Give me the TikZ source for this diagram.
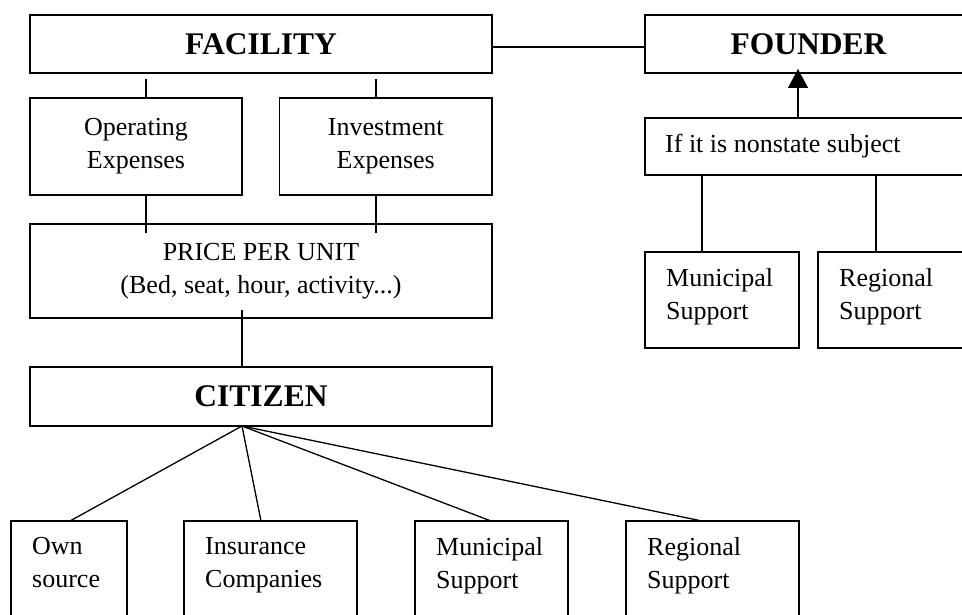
\documentclass[tikz,border=0pt]{standalone}
\usepackage{fontspec}
\setmainfont{Liberation Serif}
\usetikzlibrary{arrows.meta}
\begin{document}
\begin{tikzpicture}[x=1pt,y=-1pt,
  boxbase/.style={draw, rectangle, inner sep=0pt, outer sep=0pt, anchor=north west, align=center},
  thickbox/.style={boxbase, line width=2pt, font=\fontsize{31.5}{36}\selectfont\bfseries},
  thinbox/.style={boxbase, line width=1.3pt, font=\fontsize{26}{33}\selectfont},
  boxtext/.style={inner sep=0pt, anchor=north west, align=left, font=\fontsize{26}{33}\selectfont},
  conn/.style={line width=1.3pt},
  thickconn/.style={line width=2.5pt}]
\clip (0,0) rectangle (962,615);
\fill[white] (0,0) rectangle (962,615);
% top row
\node[thickbox, minimum width=462pt, minimum height=58pt] (fac) at (30,15) {FACILITY};
\node[thickbox, minimum width=327pt, minimum height=58pt] (founder) at (645,15) {FOUNDER};
% expenses
\node[thinbox, minimum width=212pt, minimum height=97pt] (op) at (30,98) {Operating\\Expenses};
\node[thinbox, minimum width=212.5pt, minimum height=97pt] (inv) at (279.5,98) {Investment\\Expenses};
% price
\node[thinbox, minimum width=462pt, minimum height=94pt] (price) at (30,224) {PRICE PER UNIT\\(Bed, seat, hour, activity...)};
% citizen
\node[thickbox, minimum width=462pt, minimum height=59pt] (cit) at (30,367) {CITIZEN};
% bottom boxes
\node[thinbox, minimum width=116pt, minimum height=130pt] (own) at (11,521) {};
\node[thinbox, minimum width=173pt, minimum height=130pt] (ins) at (184,521) {};
\node[thinbox, minimum width=153pt, minimum height=130pt] (mun) at (415,521) {};
\node[thinbox, minimum width=173pt, minimum height=130pt] (reg) at (626,521) {};
\node[boxtext] (ownT) at ([xshift=21pt,yshift=-16pt]own.north west) {Own\\source};
\node[boxtext] (insT) at ([xshift=21pt,yshift=-16pt]ins.north west) {Insurance\\Companies};
\node[boxtext] (munT) at ([xshift=21pt,yshift=-16pt]mun.north west) {Municipal\\Support};
\node[boxtext] (regT) at ([xshift=21pt,yshift=-16pt]reg.north west) {Regional\\Support};
% right side
\node[thinbox, minimum width=340pt, minimum height=57pt] (ifb) at (645,118) {};
\node[boxtext, anchor=base west] (ifT) at ([xshift=20pt,yshift=-35pt]ifb.north west) {If it is nonstate subject};
\node[thinbox, minimum width=154pt, minimum height=96pt] (rmun) at (645,252) {};
\node[thinbox, minimum width=170pt, minimum height=96pt] (rreg) at (818,252) {};
\node[boxtext] (rmunT) at ([xshift=21pt,yshift=-16pt]rmun.north west) {Municipal\\Support};
\node[boxtext] (rregT) at ([xshift=21pt,yshift=-16pt]rreg.north west) {Regional\\Support};
% connectors
\draw[thickconn] ([yshift=-3pt]fac.east) -- ([yshift=-3pt]founder.west);
\draw[conn] ([xshift=116pt,yshift=-6pt]fac.south west) -- ([xshift=116pt]op.north west);
\draw[conn] ([xshift=346pt,yshift=-6pt]fac.south west) -- ([xshift=96.5pt]inv.north west);
\draw[conn] ([xshift=116pt]op.south west) -- ([xshift=116pt,yshift=-9pt]price.north west);
\draw[conn] ([xshift=96.5pt]inv.south west) -- ([xshift=346pt,yshift=-9pt]price.north west);
\draw[thickconn] ([xshift=212pt,yshift=8pt]price.south west) -- ([xshift=212pt]cit.north west);
\coordinate (fan) at ([xshift=212pt]cit.south west);
\draw[conn] (fan) -- ([xshift=59pt]own.north west);
\draw[conn] (fan) -- ([xshift=77pt]ins.north west);
\draw[conn] (fan) -- ([xshift=76pt]mun.north west);
\draw[conn] (fan) -- ([xshift=76pt]reg.north west);
\draw[conn, -{Triangle[length=19pt,width=20pt]}] ([xshift=153pt]ifb.north west) -- ([xshift=153pt,yshift=4pt]founder.south west);
\draw[conn] ([xshift=57pt]ifb.south west) -- ([xshift=57pt]rmun.north west);
\draw[conn] ([xshift=231pt]ifb.south west) -- ([xshift=58pt]rreg.north west);
\end{tikzpicture}
\end{document}
